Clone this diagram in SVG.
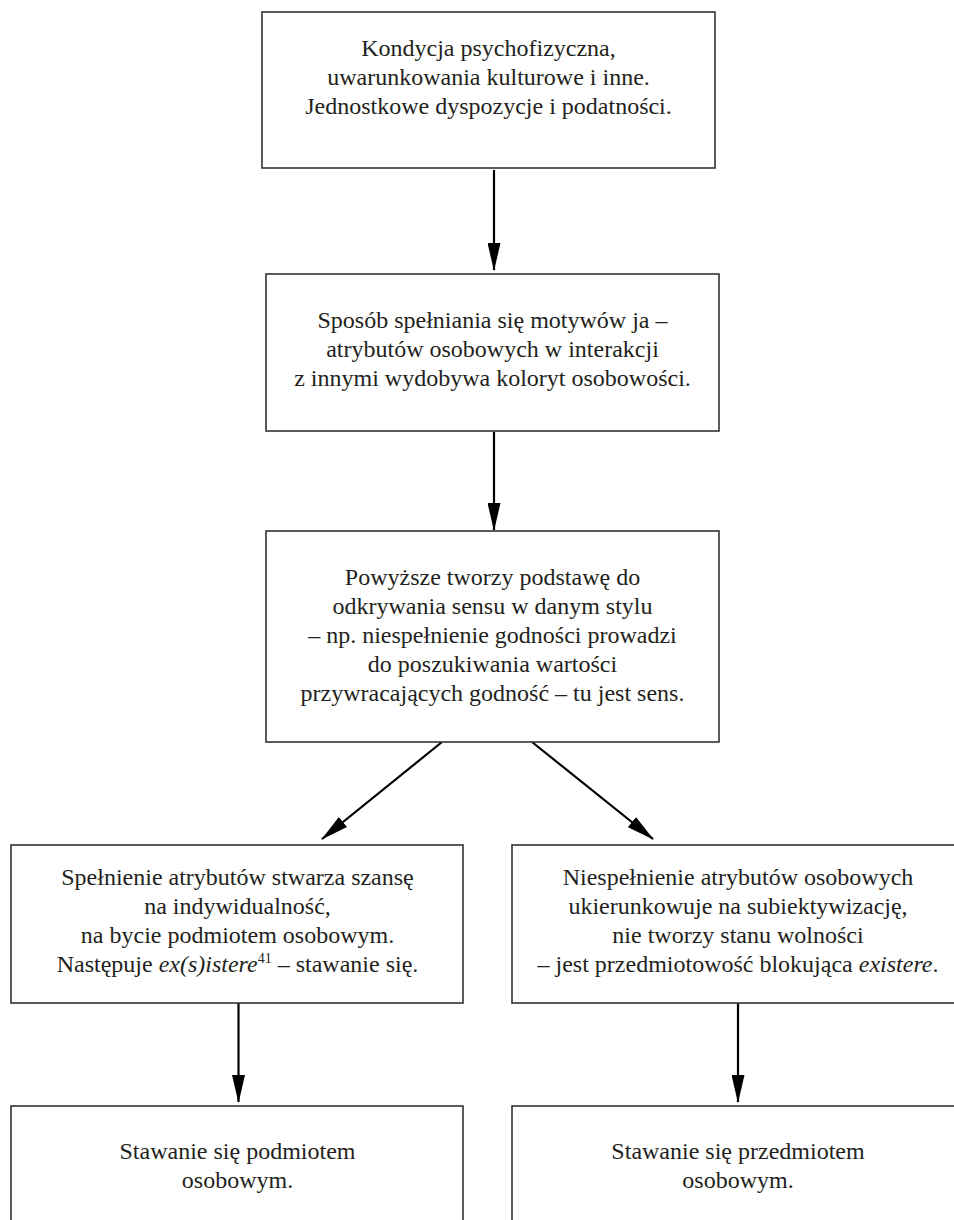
<svg xmlns="http://www.w3.org/2000/svg" width="954" height="1220" viewBox="0 0 954 1220">
<style>
.box{fill:#fff;stroke:#333;stroke-width:1.6}
.t{font-size:24px;fill:#231f20;text-anchor:middle}
.c{stroke:#000;stroke-width:2.2;fill:none;marker-end:url(#ah)}
</style>
<defs>
<marker id="ah" markerUnits="userSpaceOnUse" markerWidth="28" markerHeight="13" viewBox="0 0 28 13" refX="27" refY="6.5" orient="auto">
<path d="M0,0 L28,6.5 L0,13 z" fill="#000"/>
</marker>
</defs>
<rect width="954" height="1220" fill="#fff"/>
<g id="connectors">
<line class="c" x1="494" y1="170" x2="494" y2="270"/>
<line class="c" x1="494" y1="432" x2="494" y2="530"/>
<line class="c" x1="442" y1="742" x2="322" y2="839"/>
<line class="c" x1="532" y1="742" x2="653" y2="839"/>
<line class="c" x1="238.5" y1="1003" x2="238.5" y2="1102"/>
<line class="c" x1="738" y1="1003" x2="738" y2="1102"/>
</g>
<g font-family="Liberation Serif, DejaVu Serif, serif">
<g id="n1">
<rect class="box" x="262" y="12" width="453" height="156"/>
<text class="t"><tspan x="488.5" y="56">Kondycja psychofizyczna,</tspan><tspan x="488.5" y="85">uwarunkowania kulturowe i inne.</tspan><tspan x="488.5" y="114">Jednostkowe dyspozycje i podatności.</tspan></text>
</g>
<g id="n2">
<rect class="box" x="266" y="274" width="453" height="157"/>
<text class="t"><tspan x="492.5" y="328">Sposób spełniania się motywów ja –</tspan><tspan x="492.5" y="357">atrybutów osobowych w interakcji</tspan><tspan x="492.5" y="386">z innymi wydobywa koloryt osobowości.</tspan></text>
</g>
<g id="n3">
<rect class="box" x="266" y="531" width="453" height="211"/>
<text class="t"><tspan x="492.5" y="585">Powyższe tworzy podstawę do</tspan><tspan x="492.5" y="614">odkrywania sensu w danym stylu</tspan><tspan x="492.5" y="643">– np. niespełnienie godności prowadzi</tspan><tspan x="492.5" y="672">do poszukiwania wartości</tspan><tspan x="492.5" y="701">przywracających godność – tu jest sens.</tspan></text>
</g>
<g id="n4">
<rect class="box" x="11" y="845" width="452" height="158"/>
<text class="t"><tspan x="237.5" y="885">Spełnienie atrybutów stwarza szansę</tspan><tspan x="237.5" y="914">na indywidualność,</tspan><tspan x="237.5" y="943">na bycie podmiotem osobowym.</tspan><tspan x="237.5" y="972">Następuje <tspan font-style="italic">ex(s)istere</tspan><tspan font-size="14" dy="-9">41</tspan><tspan dy="9"> – stawanie się.</tspan></tspan></text>
</g>
<g id="n5">
<rect class="box" x="512" y="845" width="460" height="158"/>
<text class="t"><tspan x="738" y="885">Niespełnienie atrybutów osobowych</tspan><tspan x="738" y="914">ukierunkowuje na subiektywizację,</tspan><tspan x="738" y="943">nie tworzy stanu wolności</tspan><tspan x="738" y="972">– jest przedmiotowość blokująca <tspan font-style="italic">existere</tspan>.</tspan></text>
</g>
<g id="n6">
<rect class="box" x="11" y="1106" width="452" height="130"/>
<text class="t"><tspan x="237.5" y="1159">Stawanie się podmiotem</tspan><tspan x="237.5" y="1188">osobowym.</tspan></text>
</g>
<g id="n7">
<rect class="box" x="512" y="1106" width="460" height="130"/>
<text class="t"><tspan x="738" y="1159">Stawanie się przedmiotem</tspan><tspan x="738" y="1188">osobowym.</tspan></text>
</g>
</g>
</svg>
